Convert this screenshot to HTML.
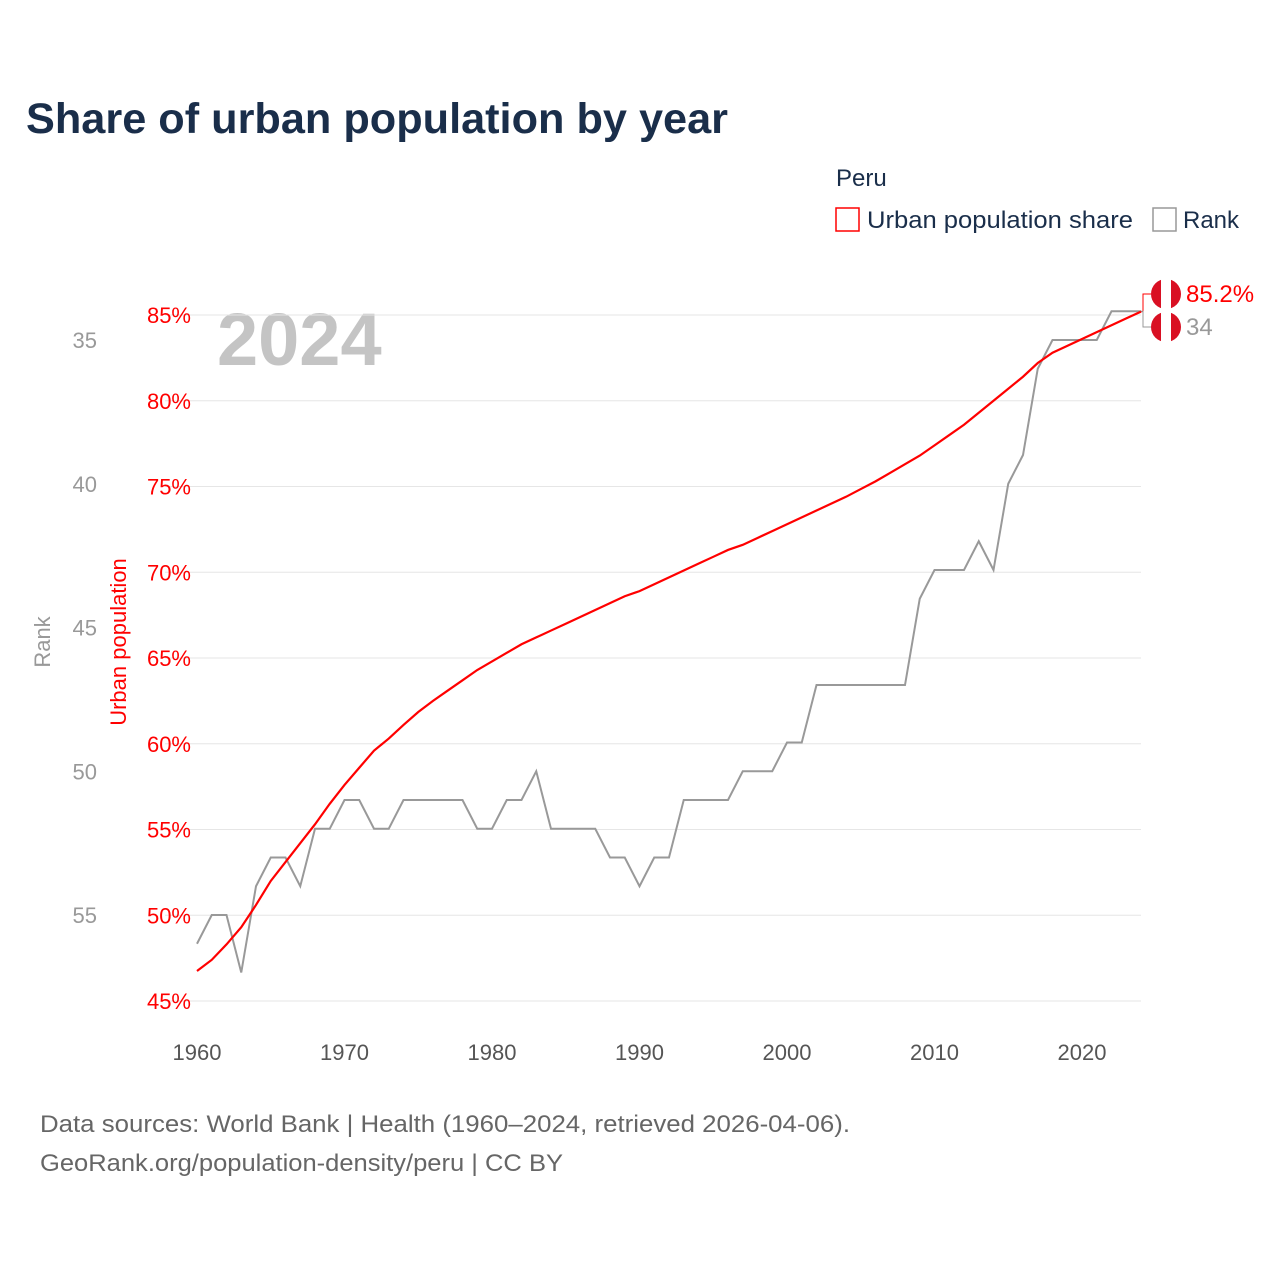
<!DOCTYPE html>
<html><head><meta charset="utf-8"><style>
body{margin:0;background:#fff;}
svg text{font-family:"Liberation Sans",sans-serif;}
</style></head><body>
<svg width="1280" height="1280" xmlns="http://www.w3.org/2000/svg" id="chart">
<rect width="1280" height="1280" fill="#fff"/>
<text x="26" y="133" font-size="42.5" font-weight="bold" fill="#1a2e4a" textLength="702" lengthAdjust="spacingAndGlyphs">Share of urban population by year</text>
<text x="836" y="186" font-size="24" fill="#1a2e4a">Peru</text>
<g>
<rect x="836" y="208" width="23" height="23" fill="none" stroke="#f00" stroke-width="1.5"/>
<text x="867" y="228" font-size="24" fill="#1a2e4a" textLength="266" lengthAdjust="spacingAndGlyphs">Urban population share</text></g>
<g>
<rect x="1153" y="208" width="23" height="23" fill="none" stroke="#999" stroke-width="1.5"/>
<text x="1183" y="228" font-size="24" fill="#1a2e4a">Rank</text></g>
<text x="217" y="365" font-size="74" font-weight="bold" fill="#c4c4c4">2024</text>
<g id="grid"></g><g id="axes"></g><g id="lines"></g><g id="ends"></g>
<text transform="translate(50,642) rotate(-90)" text-anchor="middle" font-size="22" fill="#999">Rank</text>
<text transform="translate(126,642) rotate(-90)" text-anchor="middle" font-size="22" fill="#f00">Urban population</text>
<text x="40" y="1132" font-size="24" fill="#666" textLength="810" lengthAdjust="spacingAndGlyphs">Data sources: World Bank | Health (1960–2024, retrieved 2026-04-06).</text>
<text x="40" y="1171" font-size="24" fill="#666" textLength="523" lengthAdjust="spacingAndGlyphs">GeoRank.org/population-density/peru | CC BY</text>
</svg>
<script>
const years=[];for(let y=1960;y<=2024;y++)years.push(y);
const urban=[46.75,47.4,48.3,49.3,50.6,52.0,53.1,54.2,55.3,56.5,57.6,58.6,59.6,60.3,61.1,61.85,62.5,63.1,63.7,64.3,64.8,65.3,65.8,66.2,66.6,67.0,67.4,67.8,68.2,68.6,68.9,69.3,69.7,70.1,70.5,70.9,71.3,71.6,72.0,72.4,72.8,73.2,73.6,74.0,74.4,74.85,75.3,75.8,76.3,76.8,77.4,78.0,78.6,79.3,80.0,80.7,81.4,82.2,82.8,83.2,83.6,84.0,84.4,84.8,85.2];
const rank=[56,55,55,57,54,53,53,54,52,52,51,51,52,52,51,51,51,51,51,52,52,51,51,50,52,52,52,52,53,53,54,53,53,51,51,51,51,50,50,50,49,49,47,47,47,47,47,47,47,44,43,43,43,42,43,40,39,36,35,35,35,35,34,34,34];
const urbanTicks=[45,50,55,60,65,70,75,80,85];
const rankTicks=[35,40,45,50,55];
const xTicks=[1960,1970,1980,1990,2000,2010,2020];
const X=y=>197+(y-1960)*(1141-197)/64;
const YU=v=>1001-(v-45)*(686/40);
const YR=r=>340+(r-35)*(575/20);
const NS="http://www.w3.org/2000/svg";
function mk(tag,attrs,parent,txt){const e=document.createElementNS(NS,tag);for(const k in attrs)e.setAttribute(k,attrs[k]);if(txt!==undefined)e.textContent=txt;document.getElementById(parent).appendChild(e);return e;}
urbanTicks.forEach(t=>{
 const l=mk('line',{x1:165,x2:1141,y1:YU(t),y2:YU(t),stroke:'#e6e6e6','stroke-width':1},'grid');
 
 
 const tx=mk('text',{x:191,y:YU(t)+8,'text-anchor':'end','font-size':22,fill:'#f00'},'axes',t+'%');
 
 
});
rankTicks.forEach(t=>{
 const tx=mk('text',{x:97,y:YR(t)+8,'text-anchor':'end','font-size':22,fill:'#999'},'axes',t);
 
 
});
xTicks.forEach(t=>{
 const tx=mk('text',{x:X(t),y:1060,'text-anchor':'middle','font-size':22,fill:'#555'},'axes',t);
 
 
});
const rp=mk('polyline',{points:years.map((y,i)=>X(y)+','+YR(rank[i])).join(' '),fill:'none',stroke:'#999','stroke-width':2},'lines');


const up=mk('polyline',{points:years.map((y,i)=>X(y)+','+YU(urban[i])).join(' '),fill:'none',stroke:'#f00','stroke-width':2.2},'lines');


const n=years.length-1, ex=X(years[n]), uy=YU(urban[n]), ry=YR(rank[n]);
const fy1=294, fy2=327;
function flag(cy,name){
 const g=mk('g',{},'ends');
 
 
 const id='c'+cy;
 const cp=document.createElementNS(NS,'clipPath');cp.setAttribute('id',id);
 const c=document.createElementNS(NS,'circle');c.setAttribute('cx',1166);c.setAttribute('cy',cy);c.setAttribute('r',15);cp.appendChild(c);g.appendChild(cp);
 const inner=document.createElementNS(NS,'g');inner.setAttribute('clip-path','url(#'+id+')');g.appendChild(inner);
 [['#d91023',1151],['#fff',1161],['#d91023',1171]].forEach(([f,x])=>{const r=document.createElementNS(NS,'rect');r.setAttribute('x',x);r.setAttribute('y',cy-15);r.setAttribute('width',10);r.setAttribute('height',30);r.setAttribute('fill',f);inner.appendChild(r);});
}
const b1=mk('polyline',{points:`${ex},${uy} ${ex+2},${uy} ${ex+2},${fy1} ${1151},${fy1}`,fill:'none',stroke:'#f00','stroke-width':1},'ends');


const b2=mk('polyline',{points:`${ex},${ry} ${ex+2},${ry} ${ex+2},${fy2} ${1151},${fy2}`,fill:'none',stroke:'#999','stroke-width':1},'ends');


flag(fy1,'urban-end-flag');flag(fy2,'rank-end-flag');
const l1=mk('text',{x:1186,y:fy1+8,'font-size':24,fill:'#f00'},'ends',urban[n].toFixed(1)+'%');


const l2=mk('text',{x:1186,y:fy2+8,'font-size':24,fill:'#999'},'ends',rank[n]);


</script>
</body></html>
